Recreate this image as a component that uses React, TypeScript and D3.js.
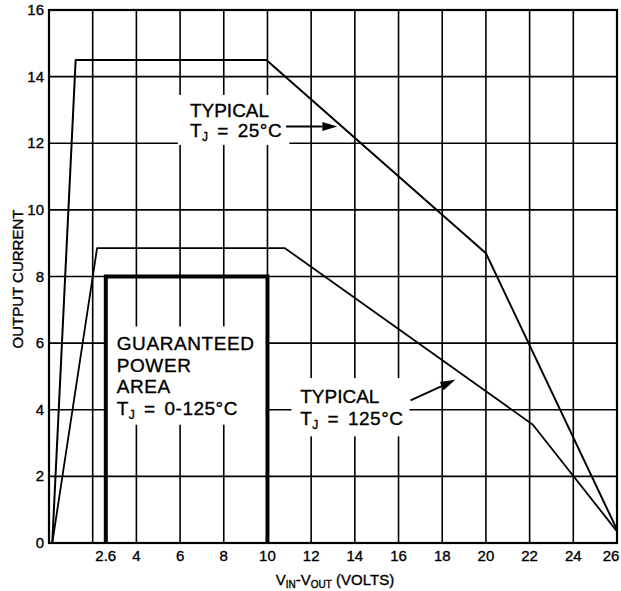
import React from "react";
import * as d3 from "d3";

const W = 621;
const H = 591;

// Data
const curve25X = [0.15, 1.22, 9.95, 20, 26];
const curve25Y = [0, 14.5, 14.5, 8.7, 0.4];
const curve125X = [0.15, 2.2, 10.8, 22.15, 26];
const curve125Y = [0, 8.85, 8.85, 3.55, 0.35];
const guaranteedX = [2.6, 2.6, 10, 10];
const guaranteedY = [0, 8, 8, 0];

const xTickValues = [2.6, 4, 6, 8, 10, 12, 14, 16, 18, 20, 22, 24, 26];
const xTickLabels = ["2.6", "4", "6", "8", "10", "12", "14", "16", "18", "20", "22", "24", "26"];
const yTickValues = [0, 2, 4, 6, 8, 10, 12, 14, 16];
const yTickLabels = ["0", "2", "4", "6", "8", "10", "12", "14", "16"];
const xGridValues = [2, 4, 6, 8, 10, 12, 14, 16, 18, 20, 22, 24];
const yGridValues = [2, 4, 6, 8, 10, 12, 14];

const x = d3.scaleLinear().domain([0, 26]).range([49, 617]);
const y = d3.scaleLinear().domain([0, 16]).range([543, 10]);

const line = d3
  .line<[number, number]>()
  .x((d) => x(d[0]))
  .y((d) => y(d[1]));

const zip = (a: number[], b: number[]): [number, number][] => a.map((v, i) => [v, b[i]]);

const FONT = "'Liberation Sans', Arial, Helvetica, sans-serif";
const TXT = { fontFamily: FONT, fill: "#000", stroke: "#000", strokeWidth: 0.35 } as const;

function Arrow({ x1, y1, x2, y2 }: { x1: number; y1: number; x2: number; y2: number }) {
  const px1 = x(x1), py1 = y(y1), px2 = x(x2), py2 = y(y2);
  const ang = Math.atan2(py2 - py1, px2 - px1);
  const len = 15, hw = 4.5;
  const bx = px2 - len * Math.cos(ang), by = py2 - len * Math.sin(ang);
  const nx = -Math.sin(ang), ny = Math.cos(ang);
  const pts = `${px2},${py2} ${bx + nx * hw},${by + ny * hw} ${bx - nx * hw},${by - ny * hw}`;
  return (
    <g>
      <line x1={px1} y1={py1} x2={bx} y2={by} stroke="#000" strokeWidth={2} />
      <polygon points={pts} fill="#000" />
    </g>
  );
}

function WhiteBox({ x0, x1, y0, y1 }: { x0: number; x1: number; y0: number; y1: number }) {
  return <rect x={x(x0)} y={y(y0)} width={x(x1) - x(x0)} height={y(y1) - y(y0)} fill="#fff" />;
}

function TJ({ px, py, rest }: { px: number; py: number; rest: string }) {
  return (
    <text x={px} y={py} fontSize={19} letterSpacing={0.5} wordSpacing={3} {...TXT}>
      T
      <tspan fontSize={12} dy={4}>J</tspan>
      <tspan dy={-4}>{rest}</tspan>
    </text>
  );
}

export default function App() {
  return (
    <svg
      width={W}
      height={H}
      style={{ position: "absolute", left: 0, top: 0, background: "#fff" }}
      xmlns="http://www.w3.org/2000/svg"
    >
      <rect x={0} y={0} width={W} height={H} fill="#fff" />
      {/* grid */}
      {xGridValues.map((v) => (
        <line key={"gx" + v} x1={x(v)} x2={x(v)} y1={y(0)} y2={y(16)} stroke="#000" strokeWidth={1.6} />
      ))}
      {yGridValues.map((v) => (
        <line key={"gy" + v} x1={x(0)} x2={x(26)} y1={y(v)} y2={y(v)} stroke="#000" strokeWidth={1.6} />
      ))}

      {/* white boxes behind labels */}
      <WhiteBox x0={5.9} x1={11.0} y0={13.45} y1={11.95} />
      <WhiteBox x0={11.1} x1={16.5} y0={4.95} y1={3.2} />
      <WhiteBox x0={2.65} x1={9.95} y0={6.5} y1={3.55} />

      {/* frame */}
      <rect x={x(0)} y={y(16)} width={x(26) - x(0)} height={y(0) - y(16)} fill="none" stroke="#000" strokeWidth={2.2} />

      {/* guaranteed area */}
      <path d={line(zip(guaranteedX, guaranteedY)) || ""} fill="none" stroke="#000" strokeWidth={4} />

      {/* curves */}
      <path d={line(zip(curve25X, curve25Y)) || ""} fill="none" stroke="#000" strokeWidth={2} strokeLinejoin="round" />
      <path d={line(zip(curve125X, curve125Y)) || ""} fill="none" stroke="#000" strokeWidth={1.8} strokeLinejoin="round" />

      {/* y ticks */}
      {yTickValues.map((v, i) => (
        <text key={"yt" + v} x={44} y={y(v) + 5} textAnchor="end" fontSize={15} {...TXT}>
          {yTickLabels[i]}
        </text>
      ))}
      {/* x ticks */}
      {xTickValues.map((v, i) => (
        <text key={"xt" + v} x={Math.min(x(v), 611)} y={561} textAnchor="middle" fontSize={15} {...TXT}>
          {xTickLabels[i]}
        </text>
      ))}

      {/* axis titles */}
      <text transform={`translate(23,279) rotate(-90)`} textAnchor="middle" fontSize={15} {...TXT}>
        OUTPUT CURRENT
      </text>
      <text x={335} y={585} textAnchor="middle" fontSize={15} {...TXT}>
        V<tspan fontSize={10} dy={3}>IN</tspan>
        <tspan dy={-3}>-V</tspan>
        <tspan fontSize={10} dy={3}>OUT</tspan>
        <tspan dy={-3}> (VOLTS)</tspan>
      </text>

      {/* annotations */}
      <text x={x(6.45)} y={y(12.79)} fontSize={19} {...TXT}>TYPICAL</text>
      <TJ px={x(6.45)} py={y(12.19)} rest=" = 25°C" />
      <Arrow x1={10.85} y1={12.5} x2={13.2} y2={12.5} />

      <text x={x(11.5)} y={y(4.2)} fontSize={19} {...TXT}>TYPICAL</text>
      <TJ px={x(11.5)} py={y(3.54)} rest=" = 125°C" />
      <Arrow x1={16.55} y1={4.28} x2={18.6} y2={4.9} />

      <text fontSize={19} letterSpacing={0.6} {...TXT}>
        <tspan x={x(3.1)} y={y(5.79)}>GUARANTEED</tspan>
        <tspan x={x(3.1)} y={y(5.13)}>POWER</tspan>
        <tspan x={x(3.1)} y={y(4.5)}>AREA</tspan>
      </text>
      <TJ px={x(3.1)} py={y(3.84)} rest=" = 0-125°C" />
    </svg>
  );
}
